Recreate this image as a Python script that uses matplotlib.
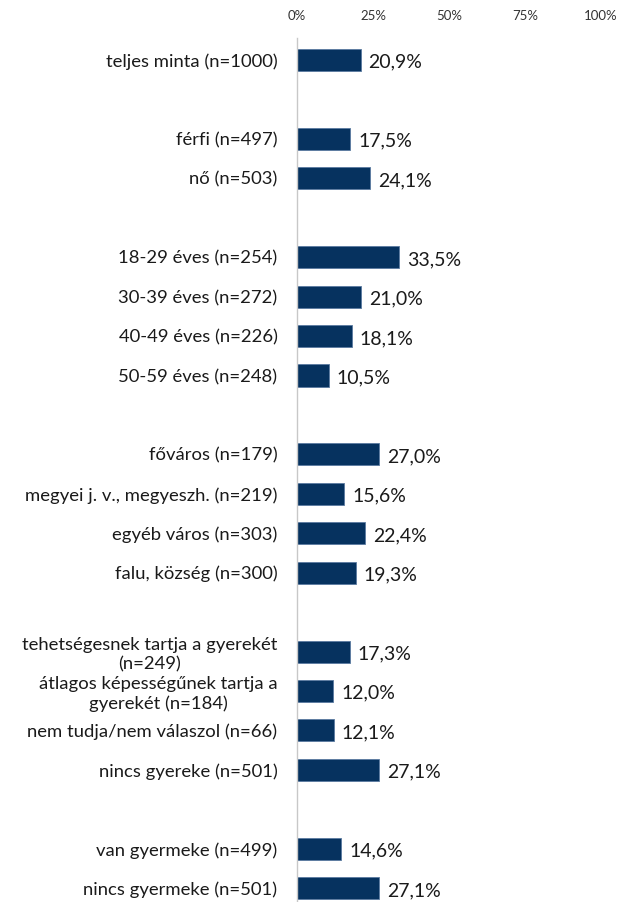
import matplotlib.pyplot as plt

plt.rcParams['font.family'] = ['Lato', 'DejaVu Sans']

# None marks an empty row between groups
labels = [
    'teljes minta (n=1000)', None,
    'férfi (n=497)', 'nő (n=503)', None,
    '18-29 éves (n=254)', '30-39 éves (n=272)', '40-49 éves (n=226)',
    '50-59 éves (n=248)', None,
    'főváros (n=179)', 'megyei j. v., megyeszh. (n=219)',
    'egyéb város (n=303)', 'falu, község (n=300)', None,
    'tehetségesnek tartja a gyerekét\n(n=249)',
    'átlagos képességűnek tartja a\ngyerekét (n=184)',
    'nem tudja/nem válaszol (n=66)', 'nincs gyereke (n=501)', None,
    'van gyermeke (n=499)', 'nincs gyermeke (n=501)',
]
values = [
    20.9, None,
    17.5, 24.1, None,
    33.5, 21.0, 18.1, 10.5, None,
    27.0, 15.6, 22.4, 19.3, None,
    17.3, 12.0, 12.1, 27.1, None,
    14.6, 27.1,
]
ticks = [0, 25, 50, 75, 100]


def main():
    fig = plt.figure(figsize=(6.17, 9.02), dpi=100)
    ax = fig.add_axes([297 / 617, 0, 304 / 617, 863.7 / 902])

    rows = [i for i, v in enumerate(values) if v is not None]
    vals = [values[i] for i in rows]
    ax.barh(rows, vals, height=0.56, color='#06325f', edgecolor='#5a7aa0',
            linewidth=0.6)

    for y, v in zip(rows, vals):
        ax.text(v + 2.6, y + 0.06, f'{v:.1f}%'.replace('.', ','),
                va='center', ha='left', fontsize=14, color='#1a1a1a')

    ax.set_yticks(rows)
    ax.set_yticklabels([labels[i] for i in rows], fontsize=13.3,
                       color='#1a1a1a', linespacing=1.25,
                       multialignment='center')
    ax.tick_params(axis='y', length=0, pad=14)

    ax.set_xlim(0, 100)
    ax.set_ylim(21.35, -0.55)
    ax.xaxis.tick_top()
    ax.set_xticks(ticks)
    ax.set_xticklabels([f'{t}%' for t in ticks], fontsize=9.5,
                       color='#333333')
    ax.tick_params(axis='x', length=0, pad=12)

    for s in ['top', 'right', 'bottom']:
        ax.spines[s].set_visible(False)
    ax.spines['left'].set_color('#c8c8c8')
    ax.spines['left'].set_linewidth(1)

    fig.savefig('out.png', dpi=100)


if __name__ == '__main__':
    main()
